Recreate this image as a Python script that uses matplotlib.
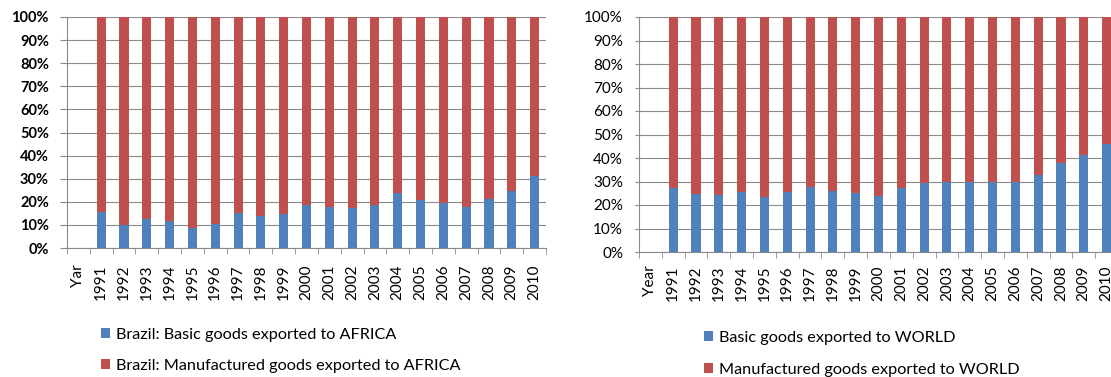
import numpy as np
import matplotlib
matplotlib.use("Agg")
import matplotlib.pyplot as plt

# categories (first slot is the "Year" header column, left empty)
years = [str(y) for y in range(1991, 2011)]
left_cats = ["Yar"] + years
right_cats = ["Year"] + years

# share of basic goods (%)
africa_basic = [15.7, 10.1, 12.4, 11.7, 8.8, 10.5, 15.3, 14.0, 14.7, 18.4,
                17.9, 17.4, 18.4, 23.9, 20.9, 19.3, 17.9, 21.3, 24.8, 31.1]
world_basic = [27.1, 24.5, 24.1, 25.4, 23.4, 25.6, 27.8, 26.1, 25.1, 23.8,
               27.4, 29.3, 29.6, 29.9, 29.9, 29.9, 32.9, 38.0, 41.3, 45.9]
africa_manuf = [100 - v for v in africa_basic]
world_manuf = [100 - v for v in world_basic]

BLUE = "#4F81BD"
RED = "#C0504D"
GRID = "#8a8a8a"

plt.rcParams['font.family'] = ['Lato', 'DejaVu Sans']

fig = plt.figure(figsize=(11.11, 3.77), dpi=100)
W, H = 1111, 377


def px_axes(x0, top, right, bottom):
    return fig.add_axes([x0 / W, (H - bottom) / H, (right - x0) / W, (bottom - top) / H])


def draw(ax, cats, basic, manuf, weight, ysize, ytick, ypad, xpad):
    n = len(cats)
    x = np.arange(1, n)
    b1 = ax.bar(x, basic, width=0.4, color=BLUE, zorder=3)
    b2 = ax.bar(x, manuf, bottom=basic, width=0.4, color=RED, zorder=3)
    ax.set_xlim(-0.5, n - 0.5)
    ax.set_ylim(0, 100)
    ax.set_yticks(np.arange(0, 101, 10))
    ax.set_yticklabels([f"{v}%" for v in range(0, 101, 10)],
                       fontsize=ysize, fontweight=weight)
    ax.set_xticks(np.arange(n))
    ax.set_xticklabels(cats, rotation=90, fontsize=11)
    ax.set_xticks(np.arange(-0.5, n), minor=True)
    ax.tick_params(axis='x', which='major', length=0, pad=xpad)
    ax.tick_params(axis='x', which='minor', length=4, color=GRID, direction='out')
    ax.tick_params(axis='y', length=ytick, color=GRID, pad=ypad)
    ax.yaxis.grid(True, color=GRID, linewidth=0.8, zorder=0)
    for s in ['top', 'right']:
        ax.spines[s].set_visible(False)
    for s in ['left', 'bottom']:
        ax.spines[s].set_color(GRID)
    return b1, b2


ax1 = px_axes(67, 17, 546, 248)
h1 = draw(ax1, left_cats, africa_basic, africa_manuf, 'bold', 10.5, 5, 8, 12)
ax2 = px_axes(639, 17, 1118, 252)
h2 = draw(ax2, right_cats, world_basic, world_manuf, 'normal', 11, 3, 8.5, 9.5)

leg_kw = dict(frameon=False, fontsize=11.7, handlelength=0.55, handleheight=0.55,
              handletextpad=0.35, borderaxespad=0, borderpad=0)
fig.legend(h1, ["Brazil: Basic goods exported to AFRICA",
                "Brazil: Manufactured goods exported to AFRICA"],
           loc='upper left', bbox_to_anchor=(101 / W, (H - 328) / H),
           labelspacing=1.05, **leg_kw)
fig.legend(h2, ["Basic goods exported to WORLD",
                "Manufactured goods exported to WORLD"],
           loc='upper left', bbox_to_anchor=(704 / W, (H - 331) / H),
           labelspacing=1.1, **leg_kw)

fig.savefig("out.png", dpi=100)
